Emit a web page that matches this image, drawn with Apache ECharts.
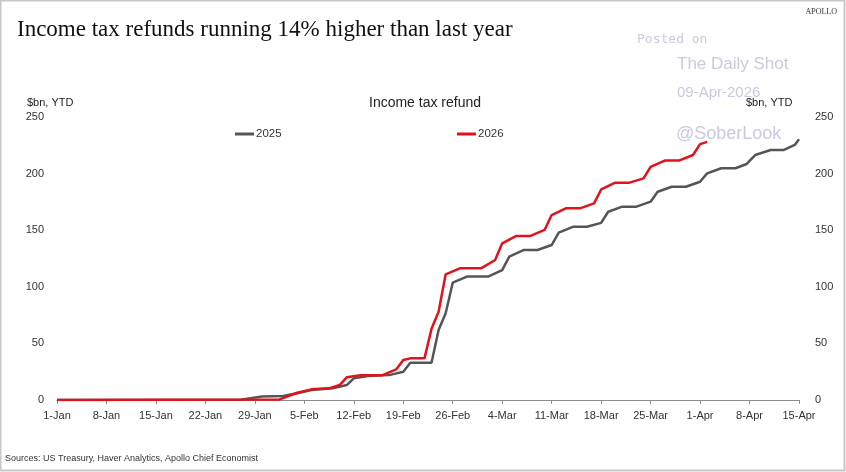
<!DOCTYPE html>
<html>
<head>
<meta charset="utf-8">
<script src="https://cdn.jsdelivr.net/npm/echarts@6/dist/echarts.min.js"></script>
<style>
html,body{margin:0;padding:0;background:#fff;}
#c{width:846px;height:472px;}
</style>
</head>
<body>
<div id="c"></div>
<script>
// Tick labels (every 7 days starting 1-Jan)
const tickLabels = ['1-Jan','8-Jan','15-Jan','22-Jan','29-Jan','5-Feb','12-Feb','19-Feb','26-Feb','4-Mar','11-Mar','18-Mar','25-Mar','1-Apr','8-Apr','15-Apr'];

// 2025 series: day offset from 1-Jan, $bn YTD
const days2025 = [0,26,29,32,34,36,39,41,42,44,47,49,50,53,54,55,56,58,61,63,64,66,68,70,71,73,75,77,78,80,82,84,85,87,89,91,92,94,96,97.6,98.8,101,102.8,104.4,105];
const vals2025 = [0,0.3,3,3.5,5.9,8.8,10.3,13.2,19.1,21.2,22,25,33,33,61.8,76.6,103.6,109,109,114.8,126.6,132.5,132.5,136.9,147.8,153,153,156.5,166.3,170.8,170.8,175.2,184,188.4,188.4,192.8,200.2,204.7,204.7,208.5,216.4,220.8,220.8,225.3,230.3];

// 2026 series
const days2026 = [0,31.5,34,36,38.5,40,41,43,46,48,49,50,52,53,54,55,57,60,62,63,65,67,69,70,72,74,76,77,79,81,83,84,86,88,90,91,92];
const vals2026 = [0,0.5,6.4,9.4,10.3,13.2,20,21.8,21.8,27,35.3,36.8,36.8,63,78,111,116.3,116.3,123.7,138.4,144.9,144.9,150.2,163.4,169.3,169.3,173.7,186,192,192,195.8,206,211.5,211.5,216.4,226,228];

const seriesNames = ['2025','2026'];
const colors = ['#555555','#e2121b'];

const pairs = (d, v) => d.map((x, i) => [x, v[i]]);

const axisFont = 'Liberation Sans, Arial, sans-serif';

const chart = echarts.init(document.getElementById('c'), null, {renderer:'canvas'});
chart.setOption({
  animation: false,
  backgroundColor: '#fff',
  grid: {left: 57, right: 47, top: 117, bottom: 72},
  xAxis: {
    type: 'value', min: 0, max: 105, interval: 7,
    axisLine: {show: true, onZero: false, lineStyle: {color: '#8c8c8c', width: 1}},
    axisTick: {show: true, length: 4, lineStyle: {color: '#8c8c8c'}},
    splitLine: {show: false},
    axisLabel: {
      color: '#333', fontSize: 11, fontFamily: axisFont, margin: 10,
      formatter: v => tickLabels[Math.round(v / 7)] || ''
    }
  },
  yAxis: [
    {type: 'value', min: 0, max: 250, interval: 50, position: 'left',
     axisLine: {show: false}, axisTick: {show: false}, splitLine: {show: false},
     axisLabel: {color: '#333', fontSize: 11, fontFamily: axisFont, margin: 13}},
    {type: 'value', min: 0, max: 250, interval: 50, position: 'right',
     axisLine: {show: false}, axisTick: {show: false}, splitLine: {show: false},
     axisLabel: {color: '#333', fontSize: 11, fontFamily: axisFont, margin: 16}}
  ],
  legend: [
    {data: ['2025'], left: 230, top: 123, icon: 'rect', itemWidth: 19, itemHeight: 3, itemGap: 2,
     textStyle: {color: '#333', fontSize: 11.5, fontFamily: axisFont, padding: [0,0,0,-3]}},
    {data: ['2026'], left: 452, top: 123, icon: 'rect', itemWidth: 19, itemHeight: 3, itemGap: 2,
     textStyle: {color: '#333', fontSize: 11.5, fontFamily: axisFont, padding: [0,0,0,-3]}}
  ],
  series: [
    {name: seriesNames[0], type: 'line', data: pairs(days2025, vals2025), showSymbol: false, symbol: 'none',
     lineStyle: {color: colors[0], width: 2.5}, itemStyle: {color: colors[0]}, z: 2},
    {name: seriesNames[1], type: 'line', data: pairs(days2026, vals2026), showSymbol: false, symbol: 'none',
     lineStyle: {color: colors[1], width: 2.5}, itemStyle: {color: colors[1]}, z: 3}
  ],
  graphic: [
    {type: 'rect', shape: {x: 0.5, y: 0.5, width: 844, height: 470}, style: {fill: 'none', stroke: '#c8c8c8', lineWidth: 2}, silent: true},
    {type: 'text', left: 17, top: 18, style: {text: 'Income tax refunds running 14% higher than last year', fontFamily: 'Liberation Serif, DejaVu Serif, serif', fontSize: 23, fill: '#111'}},
    {type: 'text', right: 9, top: 8, style: {text: 'APOLLO', fontFamily: 'Liberation Serif, serif', fontSize: 8, fill: '#333', letterSpacing: 1}},
    {type: 'text', left: 637, top: 33, style: {text: 'Posted on', fontFamily: 'DejaVu Sans Mono, monospace', fontSize: 13, fill: '#c9c9e2'}},
    {type: 'text', left: 677, top: 56, style: {text: 'The Daily Shot', fontFamily: 'Liberation Sans, Arial, sans-serif', fontSize: 17, fill: '#c9c9e2'}},
    {type: 'text', left: 677, top: 85, style: {text: '09-Apr-2026', fontFamily: 'Liberation Sans, Arial, sans-serif', fontSize: 15, fill: '#c9c9e2'}},
    {type: 'text', left: 676, top: 125, z: 1, style: {text: '@SoberLook', fontFamily: 'Liberation Sans, Arial, sans-serif', fontSize: 18, fill: '#c9c9e2'}},
    {type: 'text', left: 27, top: 97, style: {text: '$bn, YTD', fontFamily: axisFont, fontSize: 11, fill: '#222'}},
    {type: 'text', left: 746, top: 97, style: {text: '$bn, YTD', fontFamily: axisFont, fontSize: 11, fill: '#222'}},
    {type: 'text', left: 369, top: 96, style: {text: 'Income tax refund', fontFamily: axisFont, fontSize: 14, fill: '#222'}},
    {type: 'text', left: 5, top: 454, style: {text: 'Sources: US Treasury, Haver Analytics, Apollo Chief Economist', fontFamily: axisFont, fontSize: 9, fill: '#333'}}
  ]
});
</script>
</body>
</html>
